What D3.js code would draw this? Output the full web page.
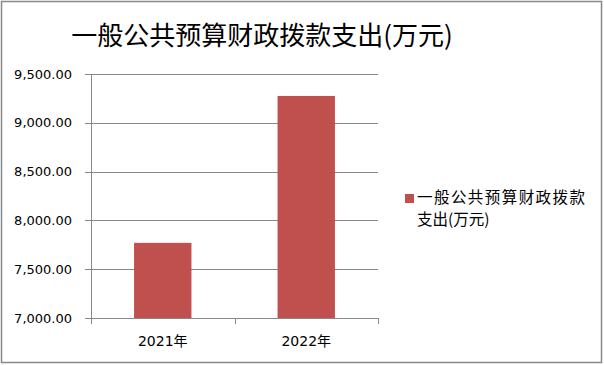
<!DOCTYPE html>
<html><head><meta charset="utf-8">
<script src="https://cdn.jsdelivr.net/npm/d3@7/dist/d3.min.js"></script>
<style>body{margin:0;background:#fff}svg{display:block}</style>
</head><body>
<svg id="c" width="604" height="365"></svg>
<script>
const title = "一般公共预算财政拨款支出(万元)";
const seriesName = "一般公共预算财政拨款支出(万元)";
const categories = ["2021年", "2022年"];
const values = [7770, 9275];
const yTicks = [7000, 7500, 8000, 8500, 9000, 9500];

const svg = d3.select("#c");
svg.append("rect").attr("x", 1.5).attr("y", 1.5).attr("width", 600).attr("height", 361)
  .attr("fill", "#fff").attr("stroke", "#888").attr("stroke-width", 1.5);

svg.append("text").attr("x", 262).attr("y", 45).attr("text-anchor", "middle")
  .attr("font-family", "Noto Sans CJK SC").attr("font-size", 26).attr("fill", "#000").text(title);

const x0 = 91, x1 = 378, yTop = 74, yBot = 318;
const x = d3.scaleBand().domain(categories).range([x0, x1]).paddingInner(0.6).paddingOuter(0.3);
const y = d3.scaleLinear().domain([7000, 9500]).range([yBot, yTop]);

const g = svg.append("g");
// gridlines
g.selectAll("line.grid").data(yTicks).join("line")
  .attr("x1", x0 - 6).attr("x2", x1).attr("y1", d => Math.round(y(d)) + 0.5).attr("y2", d => Math.round(y(d)) + 0.5)
  .attr("stroke", "#888").attr("stroke-width", 1);
// y axis line
g.append("line").attr("x1", x0 + 0.5).attr("x2", x0 + 0.5).attr("y1", yTop).attr("y2", yBot)
  .attr("stroke", "#888");
// y labels
const fmt = d3.format(",.2f");
g.selectAll("text.yl").data(yTicks).join("text")
  .attr("x", 72).attr("y", d => y(d) + 4.5).attr("text-anchor", "end")
  .attr("font-family", "DejaVu Sans").attr("font-size", 13).attr("fill", "#000").text(d => fmt(d));

// bars
g.selectAll("rect.bar").data(values).join("rect")
  .attr("x", (d, i) => x(categories[i])).attr("width", x.bandwidth())
  .attr("y", d => y(d)).attr("height", d => yBot - y(d))
  .attr("fill", "#C0504D");

// x axis
g.append("line").attr("x1", x0).attr("x2", x1).attr("y1", yBot + 0.5).attr("y2", yBot + 0.5).attr("stroke", "#888");
const step = (x1 - x0) / categories.length;
const xt = d3.range(categories.length + 1).map(i => x0 + i * step);
g.selectAll("line.xt").data(xt).join("line")
  .attr("x1", d => Math.round(d) + 0.5).attr("x2", d => Math.round(d) + 0.5).attr("y1", yBot).attr("y2", yBot + 6)
  .attr("stroke", "#888");
g.selectAll("text.xl").data(categories).join("text")
  .attr("x", d => x(d) + x.bandwidth() / 2).attr("y", 346).attr("text-anchor", "middle")
  .attr("font-family", "DejaVu Sans, Noto Sans CJK SC").attr("font-size", 14).attr("fill", "#000").text(d => d);

// legend
svg.append("rect").attr("x", 405).attr("y", 194).attr("width", 9).attr("height", 9).attr("fill", "#C0504D");
const legendLines = [seriesName.slice(0, 10), seriesName.slice(10)];
svg.selectAll("text.lg").data(legendLines).join("text")
  .attr("x", 417).attr("y", (d, i) => 203 + i * 22)
  .attr("font-family", "Noto Sans CJK SC").attr("font-size", 15.5).attr("textLength", (d, i) => i === 0 ? 168 : null)
  .attr("fill", "#000").text(d => d);
</script>
</body></html>
